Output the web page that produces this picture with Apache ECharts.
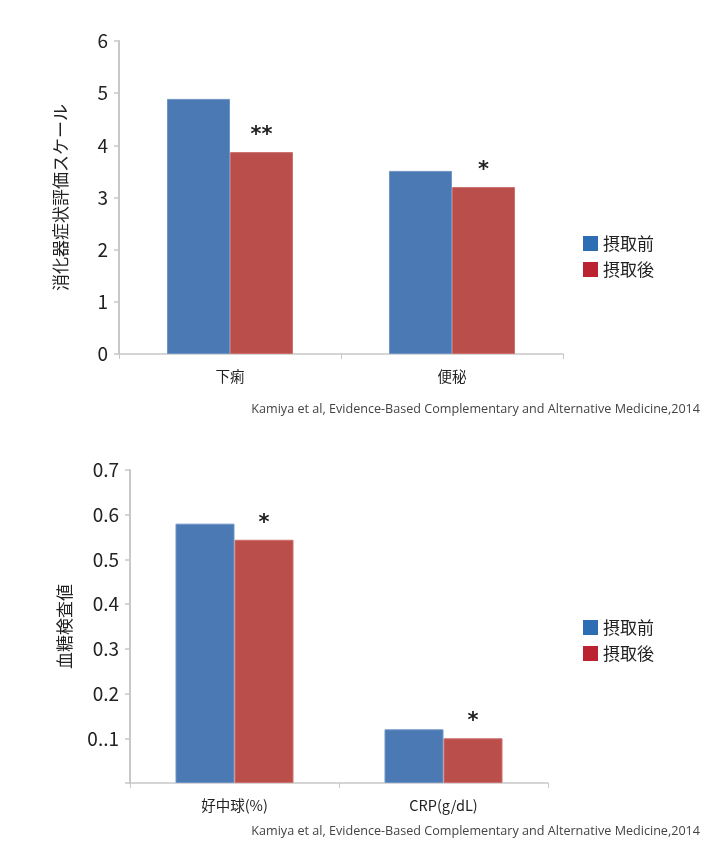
<!DOCTYPE html>
<html><head><meta charset="utf-8">
<script src="https://cdn.jsdelivr.net/npm/echarts@6/dist/echarts.min.js"></script>
<style>html,body{margin:0;padding:0;background:#fff}#c{width:720px;height:853px}</style>
</head><body><div id="c"></div>
<script>
const seriesNames = ['摂取前', '摂取後'];
const topCategories = ['下痢', '便秘'];
const topBefore = [4.89, 3.51];
const topAfter = [3.87, 3.2];
const topMarks = ['**', '*'];
const topYName = '消化器症状評価スケール';
const botCategories = ['好中球(%)', 'CRP(g/dL)'];
const botBefore = [0.58, 0.12];
const botAfter = [0.544, 0.10];
const botMarks = ['*', '*'];
const botYName = '血糖検査値';
const botTickLabels = ['', '0..1', '0.2', '0.3', '0.4', '0.5', '0.6', '0.7'];
const sourceText = 'Kamiya et al, Evidence-Based Complementary and Alternative Medicine,2014';

const FONT = '"Noto Sans CJK JP", "Noto Sans", sans-serif';
const BLUE = '#4A79B4';
const RED = '#B94E4B';
const LBLUE = '#2D6DB3';
const LRED = '#BB2330';

const chart = echarts.init(document.getElementById('c'));

function yAxis(gridIndex, max, interval, name, labels) {
  return {
    gridIndex, type: 'value', min: 0, max, interval,
    name, nameLocation: 'middle', nameRotate: 90, nameGap: gridIndex === 0 ? 50 : 57,
    nameTextStyle: { fontFamily: FONT, fontSize: 17, color: '#222' },
    axisLine: { show: true, lineStyle: { color: '#c8c8c8', width: 2 } },
    axisTick: { show: true, length: 5, lineStyle: { color: '#c8c8c8', width: 1.5 } },
    splitLine: { show: false },
    axisLabel: {
      fontFamily: FONT, fontSize: 19, color: '#222', margin: 11,
      formatter: labels ? (v) => labels[Math.round(v / interval)] : (v) => String(v)
    }
  };
}
function xAxis(gridIndex, data) {
  return {
    gridIndex, type: 'category', data,
    axisLine: { lineStyle: { color: '#c8c8c8', width: 1.5 } },
    axisTick: { show: true, length: 5, lineStyle: { color: '#c8c8c8' } },
    axisLabel: { fontFamily: FONT, fontSize: 14.5, color: '#222', margin: 15 }
  };
}
function bar(name, color, xi, data, width, marks) {
  const s = {
    name, type: 'bar', xAxisIndex: xi, yAxisIndex: xi, data, barWidth: width, barGap: '0%',
    itemStyle: { color, borderColor: color === BLUE ? '#6f95c6' : '#cf6f6c', borderWidth: 1 },
    animation: false
  };
  if (marks) {
    s.label = {
      show: true, position: 'top', distance: 6,
      formatter: (p) => marks[p.dataIndex],
      fontFamily: 'DejaVu Sans', fontWeight: 'bold', fontSize: 21, color: '#222'
    };
  }
  return s;
}
function legend(top) {
  return {
    orient: 'vertical', left: 578, top, itemWidth: 15, itemHeight: 15, itemGap: 9,
    icon: 'rect',
    textStyle: { fontFamily: FONT, fontSize: 17, color: '#222', padding: [0, 0, 0, 0] },
    data: [
      { name: seriesNames[0], itemStyle: { color: LBLUE, borderWidth: 0 } },
      { name: seriesNames[1], itemStyle: { color: LRED, borderWidth: 0 } }
    ]
  };
}

chart.setOption({
  animation: false,
  grid: [
    { left: 119, top: 41, width: 444, height: 313 },
    { left: 130, top: 470, width: 418, height: 313 }
  ],
  legend: [legend(230), legend(614)],
  xAxis: [xAxis(0, topCategories), xAxis(1, botCategories)],
  yAxis: [yAxis(0, 6, 1, topYName, null), yAxis(1, 0.7, 0.1, botYName, botTickLabels)],
  series: [
    bar(seriesNames[0], BLUE, 0, topBefore, 63, null),
    bar(seriesNames[1], RED, 0, topAfter, 63, topMarks),
    bar(seriesNames[0], BLUE, 1, botBefore, 59, null),
    bar(seriesNames[1], RED, 1, botAfter, 59, botMarks)
  ],
  graphic: [
    { type: 'text', right: 20, top: 403, style: { text: sourceText, fontFamily: '"Open Sans", sans-serif', fontSize: 12.6, fill: '#444' } },
    { type: 'text', right: 20, top: 825, style: { text: sourceText, fontFamily: '"Open Sans", sans-serif', fontSize: 12.6, fill: '#444' } }
  ]
});
</script></body></html>
